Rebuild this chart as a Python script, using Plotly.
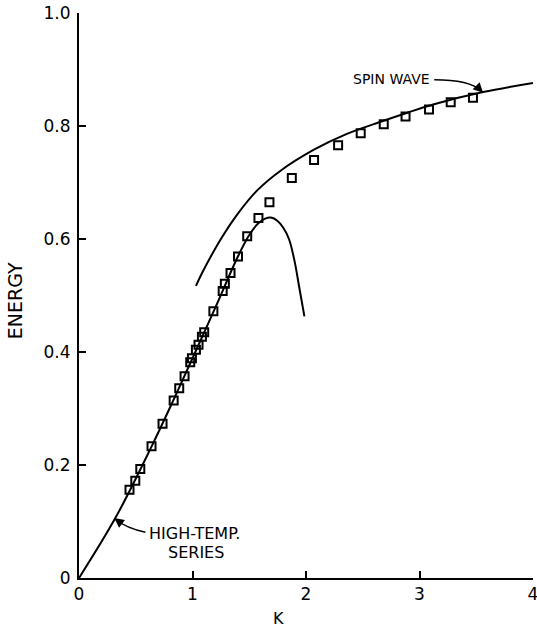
import plotly.graph_objects as go

# Data
k_points = [0.445, 0.496, 0.540, 0.639, 0.736, 0.834, 0.883, 0.930, 0.980, 0.995,
            1.030, 1.053, 1.083, 1.103, 1.184, 1.266, 1.285, 1.335, 1.401, 1.482,
            1.581, 1.678, 1.875, 2.071, 2.283, 2.482, 2.685, 2.877, 3.084, 3.275, 3.471]
e_points = [0.156, 0.172, 0.193, 0.233, 0.273, 0.314, 0.336, 0.357, 0.382, 0.389,
            0.404, 0.413, 0.427, 0.435, 0.472, 0.508, 0.521, 0.540, 0.569, 0.605,
            0.637, 0.665, 0.708, 0.740, 0.766, 0.787, 0.803, 0.817, 0.829, 0.842, 0.850]

k_high = [0.0, 0.32, 0.64, 0.83, 1.0, 1.2, 1.4, 1.5, 1.58, 1.64, 1.69, 1.75, 1.80, 1.85, 1.90, 1.94, 1.986]
e_high = [0.0, 0.106, 0.233, 0.314, 0.389, 0.478, 0.569, 0.607, 0.628, 0.636, 0.638, 0.632, 0.620, 0.600, 0.560, 0.515, 0.463]

k_spin = [1.03, 1.1, 1.25, 1.4, 1.57, 1.77, 2.07, 2.36, 2.65, 2.9, 3.12, 3.56, 4.0]
e_spin = [0.517, 0.546, 0.600, 0.645, 0.686, 0.720, 0.758, 0.786, 0.807, 0.824, 0.838, 0.860, 0.876]

x_ticks = [0, 1, 2, 3, 4]
x_ticktext = ["0", "1", "2", "3", "4"]
y_ticks = [0, 0.2, 0.4, 0.6, 0.8, 1.0]
y_ticktext = ["0", "0.2", "0.4", "0.6", "0.8", "1.0"]

FONT = "DejaVu Sans"

fig = go.Figure()
fig.add_trace(go.Scatter(x=k_high, y=e_high, mode="lines",
                         line=dict(color="black", width=2, shape="spline", smoothing=1.0),
                         showlegend=False, hoverinfo="skip"))
fig.add_trace(go.Scatter(x=k_spin, y=e_spin, mode="lines",
                         line=dict(color="black", width=2, shape="spline", smoothing=1.0),
                         showlegend=False, hoverinfo="skip"))
fig.add_trace(go.Scatter(x=k_points, y=e_points, mode="markers",
                         marker=dict(symbol="square-open", size=8, color="black",
                                     line=dict(width=2, color="black")),
                         showlegend=False))

# curved leader lines
fig.add_shape(type="path", path="M 3.13 0.882 Q 3.44 0.882 3.55 0.862",
              line=dict(color="black", width=1.5), xref="x", yref="y")
fig.add_shape(type="path", path="M 0.585 0.081 Q 0.42 0.088 0.32 0.104",
              line=dict(color="black", width=1.5), xref="x", yref="y")
# arrowheads
fig.add_annotation(x=3.56, y=0.859, ax=3.50, ay=0.871, xref="x", yref="y",
                   axref="x", ayref="y", text="", showarrow=True,
                   arrowhead=2, arrowsize=1.3, arrowwidth=1.5, arrowcolor="black")
fig.add_annotation(x=0.31, y=0.106, ax=0.37, ay=0.097, xref="x", yref="y",
                   axref="x", ayref="y", text="", showarrow=True,
                   arrowhead=2, arrowsize=1.3, arrowwidth=1.5, arrowcolor="black")

fig.add_annotation(x=3.11, y=0.884, xref="x", yref="y", text="SPIN WAVE",
                   showarrow=False, xanchor="right", yanchor="middle",
                   font=dict(family=FONT, size=14, color="black"))
fig.add_annotation(x=0.60, y=0.078, xref="x", yref="y", text="HIGH-TEMP.",
                   showarrow=False, xanchor="left", yanchor="middle",
                   font=dict(family=FONT, size=16, color="black"))
fig.add_annotation(x=0.77, y=0.046, xref="x", yref="y", text="SERIES",
                   showarrow=False, xanchor="left", yanchor="middle",
                   font=dict(family=FONT, size=16, color="black"))

fig.add_annotation(x=1.755, y=0, xref="x", yref="paper", yshift=-40, text="K",
                   showarrow=False, xanchor="center", yanchor="middle",
                   font=dict(family=FONT, size=16, color="black"))
fig.add_annotation(x=0, y=0.49, xref="paper", yref="paper", xshift=-64, text="ENERGY",
                   textangle=-90, showarrow=False, xanchor="center", yanchor="middle",
                   font=dict(family=FONT, size=19, color="black"))

fig.update_xaxes(range=[0, 4], tickvals=x_ticks, ticktext=x_ticktext,
                 ticks="inside", ticklen=7, tickwidth=2, tickcolor="black",
                 showline=True, linecolor="black", linewidth=2, mirror=False,
                 showgrid=False, zeroline=False, automargin=False,
                 ticklabeloverflow="allow",
                 tickfont=dict(family=FONT, size=17, color="black"))
fig.update_yaxes(range=[0, 1.0], tickvals=y_ticks, ticktext=y_ticktext,
                 ticks="inside", ticklen=7, tickwidth=2, tickcolor="black",
                 showline=True, linecolor="black", linewidth=2, mirror=False,
                 showgrid=False, zeroline=False, automargin=False,
                 ticklabelstandoff=3, ticklabeloverflow="allow",
                 tickfont=dict(family=FONT, size=17, color="black"))

fig.update_layout(width=537, height=627, plot_bgcolor="white", paper_bgcolor="white",
                  margin=dict(l=79, r=4, t=13, b=49), showlegend=False)

# remove the default 8px page margin so the figure fills the window exactly
fig.write_html("out.html", config={"displayModeBar": False},
               post_script="document.body.style.margin='0';document.body.style.overflow='hidden';")
